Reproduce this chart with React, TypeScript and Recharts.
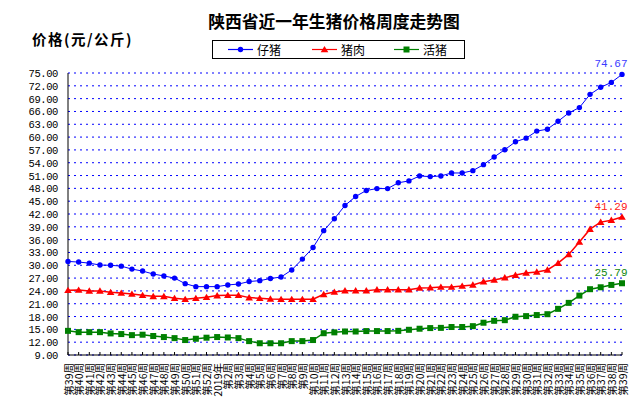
import React from 'react';
import { LineChart, Line, XAxis, YAxis, CartesianGrid, Legend, LabelList } from 'recharts';

const weeks = [
  '第39周', '第40周', '第41周', '第42周', '第43周', '第44周', '第45周', '第46周', '第47周', '第48周',
  '第49周', '第50周', '第51周', '第52周', '2019年', '第2周', '第3周', '第4周', '第5周', '第6周',
  '第7周', '第8周', '第9周', '第10周', '第11周', '第12周', '第13周', '第14周', '第15周', '第16周',
  '第17周', '第18周', '第19周', '第20周', '第21周', '第22周', '第23周', '第24周', '第25周', '第26周',
  '第27周', '第28周', '第29周', '第30周', '第31周', '第32周', '第33周', '第34周', '第35周', '第36周',
  '第37周', '第38周', '第39周',
];

const pigletPrice = [
  30.9, 30.75, 30.5, 30.05, 30.0, 29.8, 29.1, 28.65, 27.95, 27.5,
  27.0, 25.7, 25.0, 25.0, 25.0, 25.4, 25.6, 26.2, 26.4, 26.9,
  27.25, 28.9, 31.45, 34.15, 38.1, 40.9, 44.0, 46.1, 47.5, 47.95,
  47.95, 49.3, 49.75, 50.9, 50.75, 50.9, 51.6, 51.6, 52.15, 53.55,
  55.35, 57.05, 58.9, 59.75, 61.4, 61.85, 63.7, 65.65, 66.9, 70.0,
  71.65, 72.8, 74.67,
];

const porkPrice = [
  24.14, 24.2, 24.0, 24.0, 23.67, 23.5, 23.28, 22.97, 22.73, 22.73,
  22.27, 22.04, 22.27, 22.5, 22.9, 22.97, 22.97, 22.43, 22.27, 22.12,
  22.04, 22.04, 22.04, 22.04, 23.2, 23.75, 24.05, 24.05, 24.05, 24.3,
  24.3, 24.3, 24.3, 24.7, 24.75, 24.9, 24.9, 25.15, 25.4, 26.15,
  26.55, 27.1, 27.7, 28.2, 28.45, 28.9, 30.5, 32.55, 35.45, 38.45,
  40.1, 40.55, 41.29,
];

const livePigPrice = [
  14.65, 14.35, 14.35, 14.35, 14.05, 13.9, 13.65, 13.75, 13.45, 13.2,
  12.95, 12.5, 12.8, 13.05, 13.2, 13.1, 12.95, 12.25, 11.75, 11.75,
  11.75, 12.25, 12.25, 12.5, 14.1, 14.3, 14.5, 14.5, 14.6, 14.6,
  14.6, 14.65, 14.9, 15.15, 15.3, 15.35, 15.55, 15.55, 15.75, 16.55,
  17.0, 17.15, 17.95, 18.1, 18.35, 18.55, 19.8, 21.2, 22.9, 24.4,
  24.85, 25.4, 25.79,
];

const yTicks = [9, 12, 15, 18, 21, 24, 27, 30, 33, 36, 39, 42, 45, 48, 51, 54, 57, 60, 63, 66, 69, 72, 75];

const seriesNames = ['仔猪', '猪肉', '活猪'];
const chartTitle = '陕西省近一年生猪价格周度走势图';
const unitLabel = '价格(元/公斤)';

const BLUE = '#0000ff';
const RED = '#ff0000';
const GREEN = '#008000';

const last = weeks.length - 1;
const data = weeks.map((w, i) => ({
  week: w,
  piglet: pigletPrice[i],
  pork: porkPrice[i],
  live: livePigPrice[i],
  pigletLabel: i === last ? pigletPrice[i] : null,
  porkLabel: i === last ? porkPrice[i] : null,
  liveLabel: i === last ? livePigPrice[i] : null,
}));

const CJK = '"Noto Sans CJK SC", sans-serif';
const MONO = '"Liberation Mono", "DejaVu Sans Mono", monospace';

const XTick = (props: any) => {
  const { x, y, payload } = props;
  return (
    <text
      transform={`translate(${x},${y}) rotate(-90)`}
      textAnchor="end"
      dominantBaseline="central"
      fontFamily={CJK}
      fontSize={10.5}
      fill="#000"
    >
      {payload.value}
    </text>
  );
};

const YTick = (props: any) => {
  const { x, y, payload } = props;
  return (
    <text
      x={x}
      y={y + 4}
      textAnchor="end"
      fontFamily={MONO}
      fontSize={10.5}
      fill="#000"
      style={{ letterSpacing: '-0.4px' }}
    >
      {Number(payload.value).toFixed(2)}
    </text>
  );
};

const circleDot = (p: any) => {
  if (p.cx == null || p.cy == null) return <g key={p.index} />;
  return <circle key={p.index} cx={p.cx} cy={p.cy} r={2.7} fill={BLUE} stroke="none" />;
};

const triangleDot = (p: any) => {
  if (p.cx == null || p.cy == null) return <g key={p.index} />;
  const { cx, cy } = p;
  return (
    <path
      key={p.index}
      d={`M${cx},${cy - 3.6} L${cx + 3.8},${cy + 2.8} L${cx - 3.8},${cy + 2.8} Z`}
      fill={RED}
      stroke="none"
    />
  );
};

const squareDot = (p: any) => {
  if (p.cx == null || p.cy == null) return <g key={p.index} />;
  return <rect key={p.index} x={p.cx - 3} y={p.cy - 3} width={6} height={6} fill={GREEN} stroke="none" />;
};

const makeEndLabel = (color: string) => (props: any) => {
  const { value } = props;
  if (value == null) return null;
  const vb = props.viewBox || {};
  const x = props.x != null ? props.x : vb.x;
  const y = props.y != null ? props.y : vb.y;
  if (x == null || y == null) return null;
  return (
    <text x={x - 11} y={y - 7} textAnchor="middle" fontFamily={MONO} fontSize={11} fill={color}>
      {Number(value).toFixed(2)}
    </text>
  );
};

const legendItems = [
  { name: seriesNames[0], color: BLUE, shape: 'circle', left: 15 },
  { name: seriesNames[1], color: RED, shape: 'triangle', left: 99 },
  { name: seriesNames[2], color: GREEN, shape: 'square', left: 181 },
];

const LegendBox = () => (
  <div
    style={{
      boxSizing: 'border-box',
      width: 253,
      height: 19,
      border: '1px solid #000',
      position: 'relative',
      background: '#fff',
      fontFamily: CJK,
      fontSize: 12,
      color: '#000',
    }}
  >
    {legendItems.map((it) => (
      <div key={it.name} style={{ position: 'absolute', left: it.left, top: 0, height: 17, width: 70 }}>
        <svg width={25} height={17} style={{ position: 'absolute', left: 0, top: 0 }}>
          <line x1={0} y1={8.5} x2={25} y2={8.5} stroke={it.color} strokeWidth={1.2} />
          {it.shape === 'circle' && <circle cx={12.5} cy={8.5} r={2.7} fill={it.color} />}
          {it.shape === 'triangle' && <path d="M12.5,4.9 L16.3,11.3 L8.7,11.3 Z" fill={it.color} />}
          {it.shape === 'square' && <rect x={9.5} y={5.5} width={6} height={6} fill={it.color} />}
        </svg>
        <span style={{ position: 'absolute', left: 29, top: 0, lineHeight: '17px', whiteSpace: 'nowrap' }}>
          {it.name}
        </span>
      </div>
    ))}
  </div>
);

export default function App() {
  return (
    <div
      style={{
        position: 'absolute',
        left: 0,
        top: 0,
        width: 637,
        height: 404,
        background: '#fff',
        fontFamily: CJK,
      }}
    >
      <div
        style={{
          position: 'absolute',
          left: 134,
          top: 13,
          width: 400,
          textAlign: 'center',
          fontSize: 16.8,
          fontWeight: 'bold',
          lineHeight: '17px',
          color: '#000',
          whiteSpace: 'nowrap',
        }}
      >
        {chartTitle}
      </div>
      <div
        style={{
          position: 'absolute',
          left: 32,
          top: 31,
          fontSize: 14.5,
          fontWeight: 'bold',
          lineHeight: '15px',
          letterSpacing: '1.5px',
          color: '#000',
          whiteSpace: 'nowrap',
        }}
      >
        {unitLabel}
      </div>
      <LineChart width={637} height={404} data={data} margin={{ top: 73, right: 15, bottom: 0, left: 0 }}>
        <CartesianGrid vertical={false} stroke={BLUE} strokeDasharray="2 4" />
        <XAxis
          dataKey="week"
          height={49}
          interval={0}
          tick={(p: any) => <XTick {...p} />}
          tickSize={-3}
          tickMargin={11}
          axisLine={{ stroke: '#000' }}
          tickLine={{ stroke: '#000' }}
        />
        <YAxis
          domain={[9, 75]}
          ticks={yTicks}
          interval={0}
          width={68}
          tickLine={false}
          tickMargin={4}
          axisLine={{ stroke: '#000' }}
          tick={(p: any) => <YTick {...p} />}
        />
        <Legend
          layout="horizontal"
          verticalAlign="middle"
          align="center"
          wrapperStyle={{ left: 212, top: 40, width: 253, height: 19 }}
          content={() => <LegendBox />}
        />
        <Line
          type="linear"
          dataKey="piglet"
          name={seriesNames[0]}
          stroke={BLUE}
          strokeWidth={1}
          dot={circleDot}
          activeDot={false}
          isAnimationActive={false}
        >
          <LabelList dataKey="pigletLabel" content={makeEndLabel('#3c3cff')} />
        </Line>
        <Line
          type="linear"
          dataKey="pork"
          name={seriesNames[1]}
          stroke={RED}
          strokeWidth={1.5}
          dot={triangleDot}
          activeDot={false}
          isAnimationActive={false}
        >
          <LabelList dataKey="porkLabel" content={makeEndLabel('#ff2020')} />
        </Line>
        <Line
          type="linear"
          dataKey="live"
          name={seriesNames[2]}
          stroke={GREEN}
          strokeWidth={1.5}
          dot={squareDot}
          activeDot={false}
          isAnimationActive={false}
        >
          <LabelList dataKey="liveLabel" content={makeEndLabel('#118811')} />
        </Line>
      </LineChart>
    </div>
  );
}
